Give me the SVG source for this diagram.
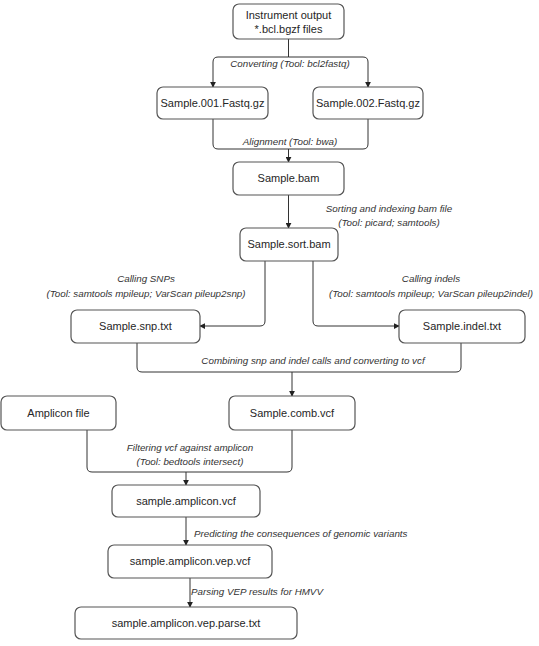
<svg xmlns="http://www.w3.org/2000/svg" width="539" height="646" viewBox="0 0 539 646">
<defs>
<marker id="ah" viewBox="0 0 8 8" refX="7" refY="4" markerWidth="6" markerHeight="6" orient="auto" markerUnits="userSpaceOnUse">
<path d="M0,0 L8,4 L0,8 z" fill="#222"/>
</marker>
<style>
.box{fill:#fff;stroke:#555;stroke-width:1.2}
.nt{font-family:"Liberation Sans",Arial,sans-serif;font-size:11px;fill:#262626;text-anchor:middle}
.lb{font-family:"Liberation Sans",Arial,sans-serif;font-size:9.8px;font-style:italic;fill:#333}
.c{fill:none;stroke:#333;stroke-width:1}
.a{marker-end:url(#ah)}
</style>
</defs>
<rect width="539" height="646" fill="#fff"/>
<g id="connectors">
<path class="c" d="M288.5,39 V57"/>
<path class="c a" d="M288.5,57 H218 Q213,57 213,62 V87"/>
<path class="c a" d="M288.5,57 H363 Q368,57 368,62 V87"/>
<path class="c" d="M213,119 V144 Q213,149 218,149 H363 Q368,149 368,144 V119"/>
<path class="c a" d="M288.5,149 V162"/>
<path class="c a" d="M288.5,195 V228"/>
<path class="c a" d="M265,261 V321 Q265,326 260,326 H200"/>
<path class="c a" d="M313,261 V321 Q313,326 318,326 H399"/>
<path class="c" d="M137,343 V367 Q137,372 142,372 H456 Q461,372 461,367 V343"/>
<path class="c a" d="M292,372 V396"/>
<path class="c" d="M87,430 V467 Q87,472 92,472 H287 Q292,472 292,467 V430"/>
<path class="c a" d="M186,472 V485"/>
<path class="c a" d="M186,517 V545"/>
<path class="c a" d="M190,578 V607"/>
</g>
<g id="labels">
<text class="lb" x="290" y="67" text-anchor="middle">Converting (Tool: bcl2fastq)</text>
<text class="lb" x="290" y="145" text-anchor="middle">Alignment (Tool: bwa)</text>
<text class="lb" x="389" y="212" text-anchor="middle">Sorting and indexing bam file</text>
<text class="lb" x="389" y="226" text-anchor="middle">(Tool: picard; samtools)</text>
<text class="lb" x="146" y="282" text-anchor="middle">Calling SNPs</text>
<text class="lb" x="146" y="297" text-anchor="middle">(Tool: samtools mpileup; VarScan pileup2snp)</text>
<text class="lb" x="431" y="282" text-anchor="middle">Calling indels</text>
<text class="lb" x="431" y="297" text-anchor="middle">(Tool: samtools mpileup; VarScan pileup2indel)</text>
<text class="lb" x="313" y="364" text-anchor="middle">Combining snp and indel calls and converting to vcf</text>
<text class="lb" x="190" y="451" text-anchor="middle">Filtering vcf against amplicon</text>
<text class="lb" x="190" y="465" text-anchor="middle">(Tool: bedtools intersect)</text>
<text class="lb" x="194" y="537">Predicting the consequences of genomic variants</text>
<text class="lb" x="191" y="595">Parsing VEP results for HMVV</text>
</g>
<g id="n-instrument"><rect class="box" x="233" y="4" width="111" height="35" rx="6"/><text class="nt" x="288.5" y="19">Instrument output</text><text class="nt" x="288.5" y="33">*.bcl.bgzf files</text></g>
<g id="n-fq1"><rect class="box" x="157" y="87" width="111" height="32" rx="6"/><text class="nt" x="212.5" y="107">Sample.001.Fastq.gz</text></g>
<g id="n-fq2"><rect class="box" x="313" y="87" width="110" height="32" rx="6"/><text class="nt" x="368" y="107">Sample.002.Fastq.gz</text></g>
<g id="n-bam"><rect class="box" x="233" y="162" width="111" height="33" rx="6"/><text class="nt" x="288.5" y="182">Sample.bam</text></g>
<g id="n-sortbam"><rect class="box" x="240" y="228" width="98" height="33" rx="6"/><text class="nt" x="289" y="248">Sample.sort.bam</text></g>
<g id="n-snp"><rect class="box" x="71" y="310" width="129" height="33" rx="6"/><text class="nt" x="135.5" y="330">Sample.snp.txt</text></g>
<g id="n-indel"><rect class="box" x="399" y="310" width="126" height="33" rx="6"/><text class="nt" x="462" y="330">Sample.indel.txt</text></g>
<g id="n-amplicon"><rect class="box" x="1" y="396" width="115" height="34" rx="6"/><text class="nt" x="58.5" y="417">Amplicon file</text></g>
<g id="n-comb"><rect class="box" x="229" y="396" width="126" height="34" rx="6"/><text class="nt" x="292" y="417">Sample.comb.vcf</text></g>
<g id="n-ampvcf"><rect class="box" x="112" y="485" width="148" height="32" rx="6"/><text class="nt" x="186" y="505">sample.amplicon.vcf</text></g>
<g id="n-vep"><rect class="box" x="108" y="545" width="164" height="33" rx="6"/><text class="nt" x="190" y="565">sample.amplicon.vep.vcf</text></g>
<g id="n-parse"><rect class="box" x="75" y="607" width="222" height="32" rx="6"/><text class="nt" x="186" y="627">sample.amplicon.vep.parse.txt</text></g>
</svg>
